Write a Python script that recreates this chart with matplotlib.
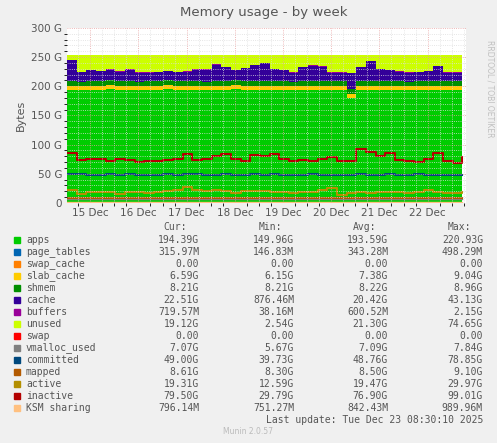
import numpy as np
import matplotlib
matplotlib.use("Agg")
import matplotlib.pyplot as plt

# time in days relative to 15 Dec 00:00
t = [-0.48 + i * 0.2 for i in range(42)]
apps = [194,193,194,194,195,194,194,193,194,194,195,194,194,194,193,194,194,195,194,194,
        194,194,194,193,194,194,194,194,194,180,193,194,194,194,194,193,194,194,194,194,194,194]
page_tables = [0.3]*42
swap_cache = [0.0]*42
slab_cache = [6.6,6.5,6.6,6.7,6.6,6.5,6.6,6.6,6.7,6.6,6.5,6.6,6.6,6.7,6.6,6.6,6.5,6.6,6.6,6.7,
              6.6,6.6,6.6,6.5,6.6,6.6,6.7,6.6,6.6,6.2,7.0,6.6,6.6,6.5,6.6,6.6,6.7,6.6,6.6,6.5,6.6,6.6]
shmem = [8.2]*42
cache = [36,16,18,17,18,16,19,15,14,15,16,15,16,19,20,28,24,17,22,27,
         30,20,18,15,24,26,24,14,14,28,24,34,20,18,16,15,15,17,25,14,14,20]
buffers = [0.7]*42
swap = [0.0]*42
vmalloc_used = [7.1]*42
committed = [49,49,48,48,49,48,49,48,48,48,49,48,49,50,48,48,49,48,48,49,
             48,49,48,48,48,49,48,48,48,47,49,48,48,49,48,48,49,48,48,48,48,48]
mapped = [8.6]*42
active = [22,16,18,19,18,16,18,18,17,18,20,22,27,22,20,22,21,17,21,21,
          20,19,18,17,18,18,22,26,14,17,18,17,18,19,18,17,18,22,19,17,17,18]
inactive = [86,73,76,75,71,76,74,70,71,72,73,76,84,73,76,80,84,75,72,82,
            80,83,75,71,73,72,76,78,72,72,93,88,80,86,74,72,70,75,86,72,68,78]
ksm = [0.8]*42

fig = plt.figure(figsize=(4.97, 4.43), dpi=100, facecolor="#F0F0F0")
ax = fig.add_axes([0.135, 0.542, 0.803, 0.395], facecolor="white")

stack = [apps, page_tables, swap_cache, slab_cache, shmem, cache, buffers]
cols = ["#00CC00", "#0066B3", "#FF8000", "#FFCC00", "#008F00", "#330099", "#990099"]
base = np.zeros(len(t))
for s, c in zip(stack, cols):
    s = np.array(s, float)
    ax.fill_between(t, base, base + s, color=c, lw=0, step="post")
    base = base + s
unused = 253.0 - base
ax.fill_between(t, base, base + unused, color="#CCFF00", lw=0, step="post")
ax.step(t, vmalloc_used, where="post", color="#808080", lw=1)
ax.step(t, committed, where="post", color="#00487D", lw=1.5)
ax.step(t, mapped, where="post", color="#B35A00", lw=1.5)
ax.step(t, active, where="post", color="#B38F00", lw=1.5)
ax.step(t, inactive, where="post", color="#B30000", lw=1.5)
ax.step(t, ksm, where="post", color="#FFC080", lw=1)

ax.set_xlim(-0.48, 7.8)
ax.set_ylim(0, 300)
ax.set_yticks([0, 50, 100, 150, 200, 250, 300])
ax.set_yticklabels(["0", "50 G", "100 G", "150 G", "200 G", "250 G", "300 G"])
ax.set_yticks(np.arange(0, 300, 10), minor=True)
ax.set_xticks(range(8))
ax.set_xticklabels(["15 Dec", "16 Dec", "17 Dec", "18 Dec", "19 Dec", "20 Dec", "21 Dec", "22 Dec"])
ax.set_xticks(np.arange(-0.25, 7.8, 0.25), minor=True)
ax.grid(which="minor", color="#DDDDDD", ls=":", lw=0.6)
ax.grid(which="major", color="#E8A0A0", ls=":", lw=0.6)
ax.set_axisbelow(False)
ax.tick_params(labelsize=7.5, colors="#555555", length=0)
for sp in ax.spines.values():
    sp.set_visible(False)
ax.set_ylabel("Bytes", fontsize=8, color="#555555")
fig.text(0.53, 0.965, "Memory usage - by week", ha="center", fontsize=9.5, color="#555555")
fig.text(0.985, 0.8, "RRDTOOL / TOBI OETIKER", rotation=270, fontsize=5.5, color="#C0C0C0", ha="center", va="center")

names = ["apps", "page_tables", "swap_cache", "slab_cache", "shmem", "cache", "buffers", "unused",
         "swap", "vmalloc_used", "committed", "mapped", "active", "inactive", "KSM sharing"]
lcols = cols + ["#CCFF00", "#FF0000", "#808080", "#00487D", "#B35A00", "#B38F00", "#B30000", "#FFC080"]
cur = ["194.39G","315.97M","0.00","6.59G","8.21G","22.51G","719.57M","19.12G","0.00","7.07G","49.00G","8.61G","19.31G","79.50G","796.14M"]
mn = ["149.96G","146.83M","0.00","6.15G","8.21G","876.46M","38.16M","2.54G","0.00","5.67G","39.73G","8.30G","12.59G","29.79G","751.27M"]
avg = ["193.59G","343.28M","0.00","7.38G","8.22G","20.42G","600.52M","21.30G","0.00","7.09G","48.76G","8.50G","19.47G","76.90G","842.43M"]
mx = ["220.93G","498.29M","0.00","9.04G","8.96G","43.13G","2.15G","74.65G","0.00","7.84G","78.85G","9.10G","29.97G","99.01G","989.96M"]
fs = 7
tc = "#555555"
mono = "DejaVu Sans Mono"
def fy(py):
    return (443 - py) / 443
for lab, x in [("Cur:", 187), ("Min:", 282), ("Avg:", 376), ("Max:", 471)]:
    fig.text(x / 497, fy(227), lab, ha="right", va="center", fontsize=fs, color=tc, family=mono)
vx = [199, 294, 388, 483]
for i in range(15):
    py = 240 + i * 12
    fig.patches.append(plt.Rectangle((14 / 497, fy(py + 3)), 6 / 497, 6 / 443, transform=fig.transFigure,
                                     color=lcols[i], figure=fig))
    fig.text(26 / 497, fy(py), names[i], va="center", fontsize=fs, color=tc, family=mono)
    for vals, x in zip([cur, mn, avg, mx], vx):
        fig.text(x / 497, fy(py), vals[i], ha="right", va="center", fontsize=fs, color=tc, family=mono)
fig.text(483 / 497, fy(420), "Last update: Tue Dec 23 08:30:10 2025", ha="right", va="center", fontsize=fs,
         color=tc, family=mono)
fig.text(248 / 497, fy(432), "Munin 2.0.57", ha="center", va="center", fontsize=5.5, color="#BBBBBB")
fig.savefig("out.png", dpi=100, facecolor=fig.get_facecolor())
